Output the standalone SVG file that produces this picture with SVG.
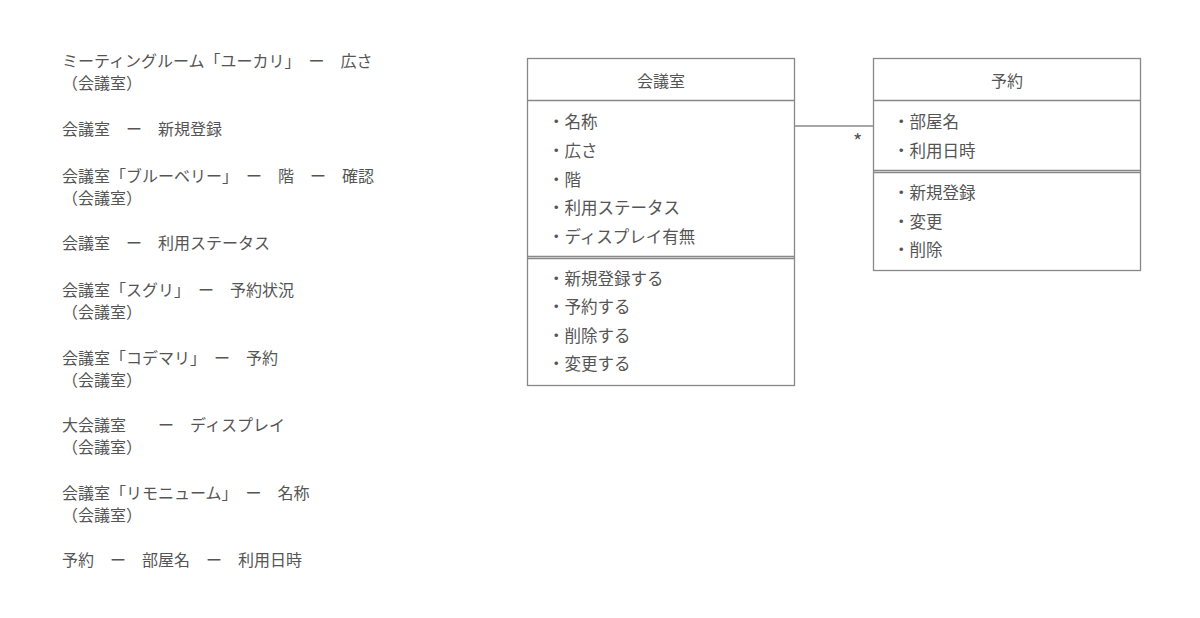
<svg xmlns="http://www.w3.org/2000/svg" width="1200" height="618" viewBox="0 0 1200 618">
<style>
text{font-family:"Noto Sans CJK JP","Noto Sans",sans-serif;fill:#555;font-size:16px}
.m{font-size:16.5px}
.box{fill:#fff;stroke:#888;stroke-width:1.3}
.ln{stroke:#888;stroke-width:1.3;fill:none}
</style>
<rect width="1200" height="618" fill="#fff"/>
<g id="notes">
<text x="62" y="67">ミーティングルーム「ユーカリ」　ー　広さ</text>
<text x="62" y="89">（会議室）</text>
<text x="62" y="135">会議室　ー　新規登録</text>
<text x="62" y="182">会議室「ブルーベリー」　ー　階　ー　確認</text>
<text x="62" y="204">（会議室）</text>
<text x="62" y="249">会議室　ー　利用ステータス</text>
<text x="62" y="296">会議室「スグリ」　ー　予約状況</text>
<text x="62" y="318">（会議室）</text>
<text x="62" y="364">会議室「コデマリ」　ー　予約</text>
<text x="62" y="386">（会議室）</text>
<text x="62" y="431">大会議室　　ー　ディスプレイ</text>
<text x="62" y="453">（会議室）</text>
<text x="62" y="499">会議室「リモニューム」　ー　名称</text>
<text x="62" y="521">（会議室）</text>
<text x="62" y="566">予約　ー　部屋名　ー　利用日時</text>
</g>
<g id="connectors">
<line class="ln" x1="794" y1="126" x2="873" y2="126"/>
<text x="853" y="149" style="font-size:20px">*</text>
</g>
<g id="kaigishitsu">
<rect class="box" x="527.5" y="58.5" width="267" height="327"/>
<line class="ln" x1="527" y1="100.5" x2="794" y2="100.5"/>
<line class="ln" x1="527" y1="256.5" x2="794" y2="256.5"/>
<line class="ln" x1="527" y1="258.5" x2="794" y2="258.5"/>
<text x="661" y="87" text-anchor="middle">会議室</text>
<text class="m" x="548" y="128">・名称</text>
<text class="m" x="548" y="157">・広さ</text>
<text class="m" x="548" y="186">・階</text>
<text class="m" x="548" y="214">・利用ステータス</text>
<text class="m" x="548" y="243">・ディスプレイ有無</text>
<text class="m" x="548" y="285">・新規登録する</text>
<text class="m" x="548" y="313">・予約する</text>
<text class="m" x="548" y="342">・削除する</text>
<text class="m" x="548" y="370">・変更する</text>
</g>
<g id="yoyaku">
<rect class="box" x="873.5" y="58.5" width="267" height="212"/>
<line class="ln" x1="873" y1="100.5" x2="1140" y2="100.5"/>
<line class="ln" x1="873" y1="170.5" x2="1140" y2="170.5"/>
<line class="ln" x1="873" y1="172.5" x2="1140" y2="172.5"/>
<text x="1007" y="87" text-anchor="middle">予約</text>
<text class="m" x="893" y="128">・部屋名</text>
<text class="m" x="893" y="157">・利用日時</text>
<text class="m" x="893" y="199">・新規登録</text>
<text class="m" x="893" y="228">・変更</text>
<text class="m" x="893" y="256">・削除</text>
</g>
</svg>
